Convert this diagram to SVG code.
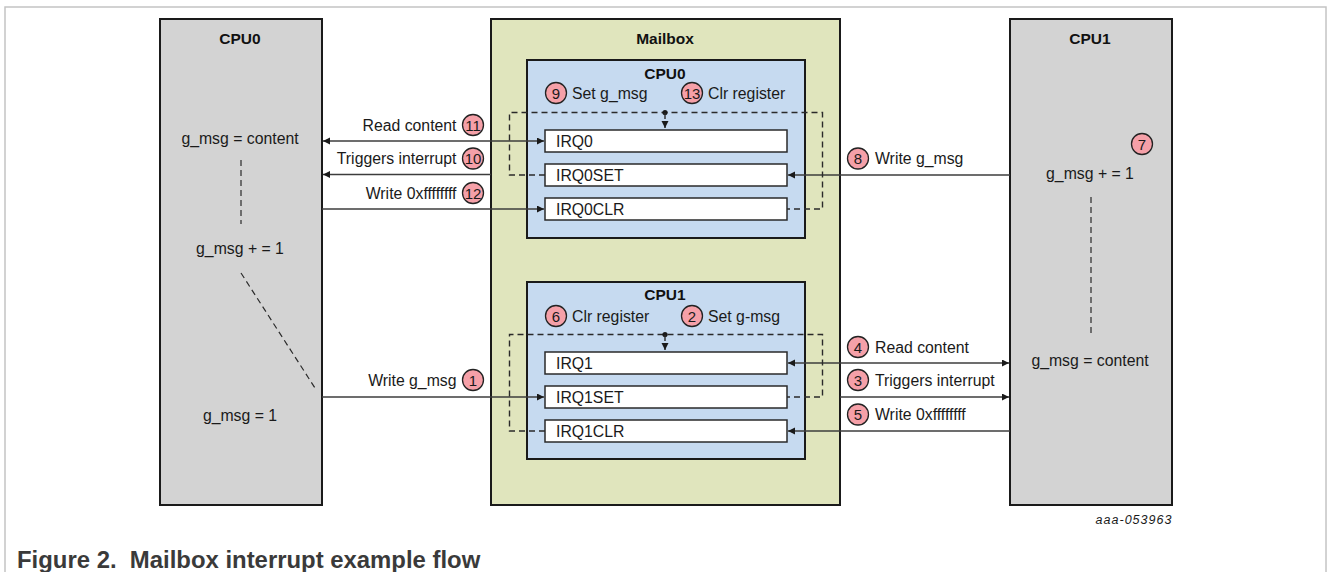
<svg xmlns="http://www.w3.org/2000/svg" width="1328" height="572" viewBox="0 0 1328 572">
  <style>
    .frame { fill: none; stroke: #c4c4c4; stroke-width: 1.5; }
    .cpu { fill: #d3d3d3; stroke: #1a1a1a; stroke-width: 2; }
    .mbox { fill: #e0e5bd; stroke: #1a1a1a; stroke-width: 2; }
    .bank { fill: #c6daf0; stroke: #1a1a1a; stroke-width: 2; }
    .reg { fill: #ffffff; stroke: #2a2a2a; stroke-width: 1.5; }
    .title { font-family: "Liberation Sans", Arial, sans-serif; font-weight: bold; font-size: 15.5px; fill: #111; text-anchor: middle; }
    .lbl { font-family: "Liberation Sans", Arial, sans-serif; font-size: 15.8px; fill: #1a1a1a; }
    .mid { text-anchor: middle; }
    .end { text-anchor: end; }
    .step circle { fill: #f5a0a8; stroke: #222; stroke-width: 1.3; }
    .step text { font-family: "Liberation Sans", Arial, sans-serif; font-size: 15px; fill: #1a1a1a; text-anchor: middle; }
    .wire { fill: none; stroke: #3c3c3c; stroke-width: 1.4; }
    .dash { fill: none; stroke: #2a2a2a; stroke-width: 1.4; stroke-dasharray: 6 4; }
    .thin { fill: none; stroke: #2a2a2a; stroke-width: 1.2; stroke-dasharray: 6 4; }
    .caption { font-family: "Liberation Sans", Arial, sans-serif; font-weight: bold; font-size: 23.9px; fill: #3a3a3a; }
    .ref { font-family: "Liberation Sans", Arial, sans-serif; font-style: italic; font-size: 12.5px; fill: #1a1a1a; text-anchor: end; }
  </style>
  <defs>
    <marker id="arrow" markerUnits="userSpaceOnUse" markerWidth="8" markerHeight="8" refX="7" refY="3.5" orient="auto-start-reverse">
      <path d="M0,0 L7,3.5 L0,7 z" fill="#1a1a1a"/>
    </marker>
  </defs>

  <!-- figure frame -->
  <rect class="frame" x="5" y="7" width="1321" height="600"/>

  <!-- processor 0 lane -->
  <g id="cpu0">
    <rect class="cpu" x="160" y="19" width="162" height="486"/>
    <text class="title" x="240" y="44">CPU0</text>
    <text class="lbl mid" x="240" y="144">g_msg = content</text>
    <line class="thin" x1="241" y1="160" x2="241" y2="224"/>
    <text class="lbl mid" x="240" y="254">g_msg + = 1</text>
    <line class="thin" x1="241" y1="273" x2="315" y2="388"/>
    <text class="lbl mid" x="240" y="421">g_msg = 1</text>
  </g>

  <!-- mailbox peripheral -->
  <g id="mailbox">
    <rect class="mbox" x="491" y="19" width="349" height="486"/>
    <text class="title" x="665" y="44">Mailbox</text>
  </g>

  <!-- register bank owned by CPU0 -->
  <g id="bank-cpu0">
    <rect class="bank" x="527" y="60" width="278" height="178"/>
    <text class="title" x="665" y="78.5">CPU0</text>
    <g class="step"><circle cx="556" cy="93" r="10.5"/><text x="556" y="98.5">9</text></g>
    <text class="lbl" x="572" y="99">Set g_msg</text>
    <g class="step"><circle cx="692" cy="93" r="10.5"/><text x="692" y="98.5">13</text></g>
    <text class="lbl" x="708" y="99">Clr register</text>
  </g>
  <g id="irq0">
    <rect class="reg" x="545" y="130" width="242" height="22"/>
    <text class="lbl" x="556" y="147">IRQ0</text>
  </g>
  <g id="irq0set">
    <rect class="reg" x="545" y="164" width="242" height="22"/>
    <text class="lbl" x="556" y="181">IRQ0SET</text>
  </g>
  <g id="irq0clr">
    <rect class="reg" x="545" y="198" width="242" height="22"/>
    <text class="lbl" x="556" y="215">IRQ0CLR</text>
  </g>

  <!-- register bank owned by CPU1 -->
  <g id="bank-cpu1">
    <rect class="bank" x="527" y="282" width="278" height="177"/>
    <text class="title" x="665" y="299.5">CPU1</text>
    <g class="step"><circle cx="556" cy="316" r="10.5"/><text x="556" y="321.5">6</text></g>
    <text class="lbl" x="572" y="321.5">Clr register</text>
    <g class="step"><circle cx="692" cy="316" r="10.5"/><text x="692" y="321.5">2</text></g>
    <text class="lbl" x="708" y="321.5">Set g-msg</text>
  </g>
  <g id="irq1">
    <rect class="reg" x="545" y="352" width="242" height="22"/>
    <text class="lbl" x="556" y="369">IRQ1</text>
  </g>
  <g id="irq1set">
    <rect class="reg" x="545" y="386" width="242" height="22"/>
    <text class="lbl" x="556" y="403">IRQ1SET</text>
  </g>
  <g id="irq1clr">
    <rect class="reg" x="545" y="420" width="242" height="22"/>
    <text class="lbl" x="556" y="437">IRQ1CLR</text>
  </g>

  <!-- processor 1 lane -->
  <g id="cpu1">
    <rect class="cpu" x="1010" y="19" width="162" height="486"/>
    <text class="title" x="1090" y="44">CPU1</text>
    <g class="step"><circle cx="1142" cy="144" r="10.5"/><text x="1142" y="149.5">7</text></g>
    <text class="lbl mid" x="1090" y="179">g_msg + = 1</text>
    <line class="thin" x1="1091" y1="197" x2="1091" y2="337"/>
    <text class="lbl mid" x="1090" y="366">g_msg = content</text>
  </g>

  <!-- connectors -->
  <g id="connectors">
    <!-- CPU0 side -->
    <line class="wire" x1="323" y1="141" x2="544" y2="141" marker-start="url(#arrow)" marker-end="url(#arrow)"/>
    <line class="wire" x1="491" y1="174.5" x2="323" y2="174.5" marker-end="url(#arrow)"/>
    <line class="wire" x1="322" y1="209" x2="544" y2="209" marker-end="url(#arrow)"/>
    <line class="wire" x1="322" y1="397" x2="544" y2="397" marker-end="url(#arrow)"/>
    <!-- CPU1 side -->
    <line class="wire" x1="1010" y1="175" x2="788" y2="175" marker-end="url(#arrow)"/>
    <line class="wire" x1="788" y1="363" x2="1009" y2="363" marker-start="url(#arrow)" marker-end="url(#arrow)"/>
    <line class="wire" x1="840" y1="397" x2="1009" y2="397" marker-end="url(#arrow)"/>
    <line class="wire" x1="1010" y1="431" x2="788" y2="431" marker-end="url(#arrow)"/>

    <!-- internal set/clear paths, CPU0 bank -->
    <path class="dash" d="M545,175 H509.5 V112.5 H822.5 V209 H787"/>
    <circle cx="665" cy="112.5" r="2.6" fill="#1a1a1a"/>
    <line class="dash" x1="665" y1="113" x2="665" y2="128" stroke-dasharray="4 3" marker-end="url(#arrow)"/>

    <!-- internal set/clear paths, CPU1 bank -->
    <path class="dash" d="M545,431 H509.5 V334.5 H822.5 V397 H787"/>
    <circle cx="665" cy="334.5" r="2.6" fill="#1a1a1a"/>
    <line class="dash" x1="665" y1="335" x2="665" y2="350" stroke-dasharray="4 3" marker-end="url(#arrow)"/>

    <!-- step labels on the CPU0 side -->
    <text class="lbl end" x="456.5" y="130.5">Read content</text>
    <g class="step"><circle cx="473" cy="125" r="10.5"/><text x="473" y="130.5">11</text></g>
    <text class="lbl end" x="456.5" y="164">Triggers interrupt</text>
    <g class="step"><circle cx="473" cy="158.5" r="10.5"/><text x="473" y="164">10</text></g>
    <text class="lbl end" x="456.5" y="198.5">Write 0xffffffff</text>
    <g class="step"><circle cx="473" cy="193" r="10.5"/><text x="473" y="198.5">12</text></g>
    <text class="lbl end" x="456.5" y="385.5">Write g_msg</text>
    <g class="step"><circle cx="473" cy="380" r="10.5"/><text x="473" y="385.5">1</text></g>

    <!-- step labels on the CPU1 side -->
    <g class="step"><circle cx="858" cy="158.5" r="10.5"/><text x="858" y="164">8</text></g>
    <text class="lbl" x="875" y="164">Write g_msg</text>
    <g class="step"><circle cx="858" cy="347" r="10.5"/><text x="858" y="352.5">4</text></g>
    <text class="lbl" x="875" y="352.5">Read content</text>
    <g class="step"><circle cx="858" cy="380" r="10.5"/><text x="858" y="385.5">3</text></g>
    <text class="lbl" x="875" y="385.5">Triggers interrupt</text>
    <g class="step"><circle cx="858" cy="414.5" r="10.5"/><text x="858" y="420">5</text></g>
    <text class="lbl" x="875" y="420">Write 0xffffffff</text>
  </g>

  <text class="ref" x="1171.5" y="524" textLength="76" lengthAdjust="spacing">aaa-053963</text>
  <text class="caption" x="17" y="568" xml:space="preserve">Figure 2.  Mailbox interrupt example flow</text>
</svg>
